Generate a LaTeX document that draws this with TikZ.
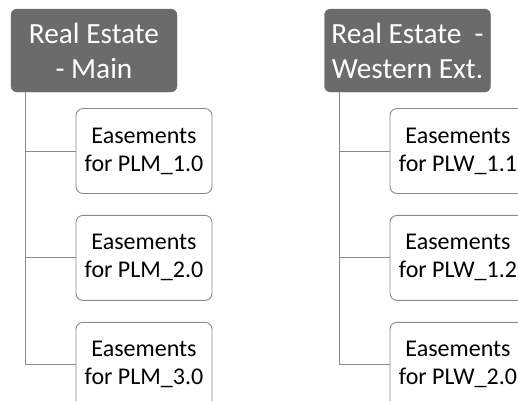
\documentclass[tikz,border=0pt]{standalone}
\usepackage{fontspec}
\setmainfont{Carlito}
\usetikzlibrary{positioning}

\definecolor{headgray}{HTML}{6B6B6B}
\definecolor{linegray}{HTML}{8A8A8A}

\begin{document}
\begin{tikzpicture}[
      x=1pt, y=1pt,
      head/.style={draw=headgray, fill=headgray, rounded corners=6pt,
                   minimum width=166pt, minimum height=83pt, inner sep=0pt,
                   align=center, text=white,
                   font=\fontsize{29.3}{35}\selectfont},
      leaf/.style={draw=linegray, fill=white, rounded corners=7pt,
                   minimum width=136pt, minimum height=85pt, inner sep=0pt,
                   align=center, line width=0.9pt,
                   font=\fontsize{24}{28}\selectfont},
      link/.style={draw=linegray, line width=1pt}
    ]
    \useasboundingbox (0,0) rectangle (518,-400);
    \clip (0,0) rectangle (518,-400);

    % Main branch
    \node[head] (mainhead) at (94,-50.5) {Real Estate\\- Main};
    \node[leaf] (plm1) at (144,-151) {Easements\\for PLM\_1.0};
    \node[leaf, below=21pt of plm1] (plm2) {Easements\\for PLM\_2.0};
    \node[leaf, below=21pt of plm2] (plm3) {Easements\\for PLM\_3.0};

    % Western extension branch
    \node[head] (westhead) at (407.5,-50.5) {Real Estate~ -\\Western Ext.};
    \node[leaf] (plw1) at (458,-151) {Easements\\for PLW\_1.1};
    \node[leaf, below=21pt of plw1] (plw2) {Easements\\for PLW\_1.2};
    \node[leaf, below=21pt of plw2] (plw3) {Easements\\for PLW\_2.0};

    % Connectors
    \foreach \c in {plm1,plm2,plm3}
      \draw[link] ([xshift=15pt]mainhead.south west) |- (\c.west);
    \foreach \c in {plw1,plw2,plw3}
      \draw[link] ([xshift=15pt]westhead.south west) |- (\c.west);

  \end{tikzpicture}
\end{document}
